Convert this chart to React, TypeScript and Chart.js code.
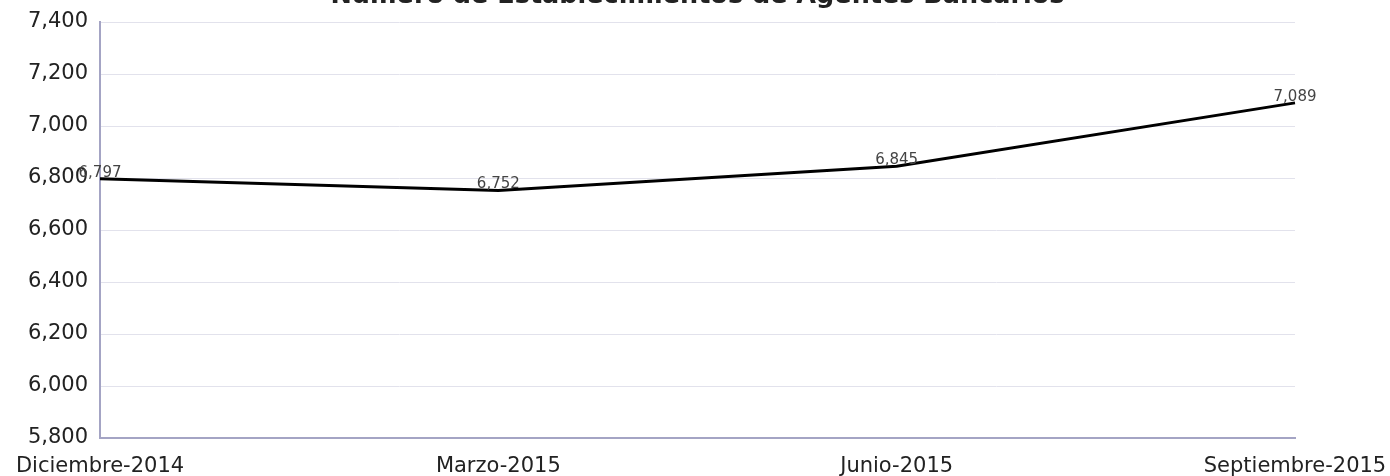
import React, { useEffect, useRef } from "react";
import { Chart, registerables } from "chart.js";

Chart.register(...registerables);

const categories: string[] = ["Diciembre-2014", "Marzo-2015", "Junio-2015", "Septiembre-2015"];
const values: number[] = [6797, 6752, 6845, 7089];
const titleText = "Número de Establecimientos de Agentes Bancarios";
const yMin = 5800;
const yMax = 7400;
const yStep = 200;

const fmt = (v: number) => v.toLocaleString("en-US");

const overlayPlugin = {
  id: "overlay",
  afterDatasetsDraw(chart: any) {
    const ctx = chart.ctx;
    const meta = chart.getDatasetMeta(0);
    ctx.save();
    ctx.font = "15px 'DejaVu Sans'";
    ctx.fillStyle = "#444444";
    ctx.textAlign = "center";
    ctx.textBaseline = "alphabetic";
    meta.data.forEach((pt: any, i: number) => {
      ctx.fillText(fmt(values[i]), pt.x, pt.y - 2);
    });
    ctx.restore();
  },
  afterDraw(chart: any) {
    const ctx = chart.ctx;
    const area = chart.chartArea;
    ctx.save();
    ctx.font = "bold 25.5px 'DejaVu Sans'";
    ctx.fillStyle = "#222222";
    ctx.textAlign = "center";
    ctx.textBaseline = "alphabetic";
    ctx.fillText(titleText, (area.left + area.right) / 2, 3);
    ctx.restore();
  },
};

export default function App() {
  const ref = useRef<HTMLCanvasElement | null>(null);
  useEffect(() => {
    if (!ref.current) return;
    const chart = new Chart(ref.current, {
      type: "line",
      data: {
        labels: categories,
        datasets: [
          {
            data: values,
            borderColor: "#000000",
            borderWidth: 3,
            pointRadius: 0,
            tension: 0,
            fill: false,
          },
        ],
      },
      options: {
        responsive: false,
        animation: false,
        layout: { padding: { top: 22, right: 95, left: 0, bottom: 0 } },
        plugins: {
          legend: { display: false },
          title: { display: false },
          tooltip: { enabled: false },
        },
        scales: {
          x: {
            offset: false,
            grid: { display: false, drawTicks: false },
            border: { display: true, color: "#a4a4c4", width: 2 },
            ticks: {
              padding: 16,
              color: "#222222",
              font: { family: "'DejaVu Sans'", size: 21 },
              maxRotation: 0,
              autoSkip: false,
            },
            afterFit: (s: any) => {
              s.height = 38;
              s.paddingLeft = 0;
              s.paddingRight = 0;
            },
          },
          y: {
            min: yMin,
            max: yMax,
            grid: { color: "#e2e2ec", lineWidth: 1, drawTicks: false },
            border: { display: true, color: "#a4a4c4", width: 2 },
            ticks: {
              stepSize: yStep,
              padding: 12,
              color: "#222222",
              font: { family: "'DejaVu Sans'", size: 21 },
              callback: (v: any) => fmt(Number(v)),
            },
            afterFit: (s: any) => {
              s.width = 100;
              s.paddingTop = 0;
              s.paddingBottom = 0;
            },
          },
        },
      },
      plugins: [overlayPlugin],
    });
    return () => chart.destroy();
  }, []);
  return (
    <div style={{ position: "fixed", left: 0, top: 0, width: 1390, height: 476, background: "#ffffff" }}>
      <canvas ref={ref} width={1390} height={476} style={{ display: "block" }} />
    </div>
  );
}
